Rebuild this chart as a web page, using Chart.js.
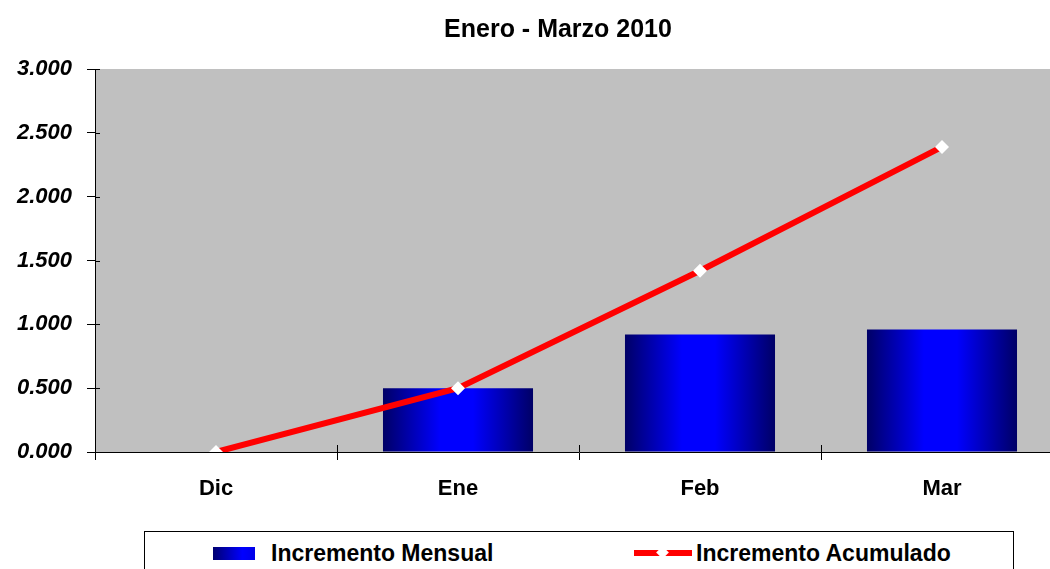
<!DOCTYPE html>
<html lang="es">
<head>
<meta charset="UTF-8">
<title>Enero - Marzo 2010</title>
<script src="https://cdn.jsdelivr.net/npm/chart.js@4"></script>
<style>
    html, body { margin: 0; padding: 0; background: #fff; overflow: hidden; }
    #wrap { position: relative; width: 1050px; height: 569px; overflow: hidden; }
    #chart { position: absolute; left: 0; top: 0; }
    #legend {
        position: absolute; left: 144px; top: 531px; width: 868px; height: 60px;
        border: 1px solid #000; background: #fff;
        font: bold 23px "Liberation Sans", Arial, sans-serif; color: #000;
    }
    .item { position: absolute; top: 7px; display: flex; align-items: center; height: 28px; }
    .swatch { width: 42px; height: 13px; margin-right: 16px;
        background: linear-gradient(to right, #000070, #0000ff 70%, #0000e8); }
    .lineSample { position: relative; width: 58px; height: 28px; margin-right: 4px; }
    .lineSample .bar { position: absolute; left: 0; right: 0; top: 11px; height: 6px; background: #ff0000; }
    .lineSample .dot { position: absolute; left: 24px; top: 9px; width: 9px; height: 9px;
        background: #fff; transform: rotate(45deg); }
</style>
</head>
<body>
<div id="wrap">
    <canvas id="chart" width="1116" height="569"></canvas>
    <div id="legend">
        <div class="item" style="left:68px"><div class="swatch"></div><span>Incremento Mensual</span></div>
        <div class="item" style="left:489px"><div class="lineSample"><div class="bar"></div><div class="dot"></div></div><span>Incremento Acumulado</span></div>
    </div>
</div>
<script>
// data
const categories = ['Dic', 'Ene', 'Feb', 'Mar'];
const monthlyIncrease = [null, 0.50, 0.92, 0.96];
const cumulativeIncrease = [0, 0.50, 1.42, 2.39];
const yTicks = [0, 0.5, 1, 1.5, 2, 2.5, 3];

const FONT = '"Liberation Sans", Arial, sans-serif';

// horizontal navy -> blue -> navy shading for each bar
function barGradient(context) {
    const chart = context.chart;
    if (!chart.chartArea || context.dataIndex === undefined) return '#0000ff';
    const x = chart.scales.x;
    const cx = x.getPixelForValue(context.dataIndex);
    const half = (x.width / categories.length) * 0.62 / 2;
    const g = chart.ctx.createLinearGradient(cx - half, 0, cx + half, 0);
    g.addColorStop(0, '#000066');
    g.addColorStop(0.38, '#0000ff');
    g.addColorStop(0.6, '#0000ff');
    g.addColorStop(1, '#000066');
    return g;
}

// gray plot background
const plotBackground = {
    id: 'plotBackground',
    beforeDraw(chart) {
        const { ctx, chartArea } = chart;
        ctx.save();
        ctx.fillStyle = '#c0c0c0';
        ctx.fillRect(chartArea.left, chartArea.top, chartArea.right - chartArea.left, chartArea.bottom - chartArea.top);
        ctx.restore();
    }
};

// tick marks that also poke a few pixels into the plot
const innerTicks = {
    id: 'innerTicks',
    afterDraw(chart) {
        const { ctx, chartArea, scales } = chart;
        ctx.save();
        ctx.strokeStyle = '#000';
        ctx.lineWidth = 1;
        ctx.beginPath();
        yTicks.forEach(v => {
            const y = Math.round(scales.y.getPixelForValue(v)) + 0.5;
            ctx.moveTo(chartArea.left, y);
            ctx.lineTo(chartArea.left + 5, y);
        });
        const step = scales.x.width / categories.length;
        for (let i = 1; i < categories.length; i++) {
            const x = Math.round(chartArea.left + i * step) + 0.5;
            ctx.moveTo(x, chartArea.bottom);
            ctx.lineTo(x, chartArea.bottom - 7);
        }
        ctx.stroke();
        ctx.restore();
    }
};

new Chart(document.getElementById('chart'), {
    type: 'bar',
    data: {
        labels: categories,
        datasets: [
            {
                type: 'line',
                label: 'Incremento Acumulado',
                data: cumulativeIncrease,
                borderColor: '#ff0000',
                borderWidth: 6,
                pointStyle: 'rectRot',
                pointRadius: 7,
                pointBackgroundColor: '#ffffff',
                pointBorderWidth: 0,
                tension: 0,
                clip: 0,
                order: 0
            },
            {
                label: 'Incremento Mensual',
                data: monthlyIncrease,
                backgroundColor: barGradient,
                borderWidth: 0,
                categoryPercentage: 1,
                barPercentage: 0.62,
                order: 1
            }
        ]
    },
    options: {
        responsive: false,
        animation: false,
        events: [],
        layout: { padding: 0 },
        plugins: {
            legend: { display: false },
            tooltip: { enabled: false },
            title: {
                display: true,
                text: 'Enero - Marzo 2010',
                color: '#000',
                font: { family: FONT, size: 25, weight: 'bold', lineHeight: 1.2 },
                padding: { top: 15, bottom: 24 }
            }
        },
        scales: {
            x: {
                offset: true,
                grid: { offset: true, drawOnChartArea: false, drawTicks: true, tickLength: 8, color: '#000' },
                border: { color: '#000', width: 1 },
                ticks: { color: '#000', padding: 16, font: { family: FONT, size: 22, weight: 'bold' } },
                afterFit(scale) { scale.height = 117; }
            },
            y: {
                min: 0,
                max: 3,
                afterBuildTicks(scale) { scale.ticks = yTicks.map(v => ({ value: v })); },
                grid: { drawOnChartArea: false, drawTicks: true, tickLength: 8, color: '#000' },
                border: { color: '#000', width: 1 },
                ticks: {
                    color: '#000',
                    padding: 15,
                    font: { family: FONT, size: 22, weight: 'bold', style: 'italic' },
                    callback: v => Number(v).toFixed(3)
                },
                afterFit(scale) { scale.width = 95; }
            },
            // empty right-hand strip: the plot runs past the visible edge
            yRight: {
                position: 'right',
                min: 0,
                max: 3,
                grid: { display: false, drawTicks: false },
                border: { display: false },
                ticks: { display: false },
                afterFit(scale) { scale.width = 53; }
            }
        }
    },
    plugins: [plotBackground, innerTicks]
});
</script>
</body>
</html>
